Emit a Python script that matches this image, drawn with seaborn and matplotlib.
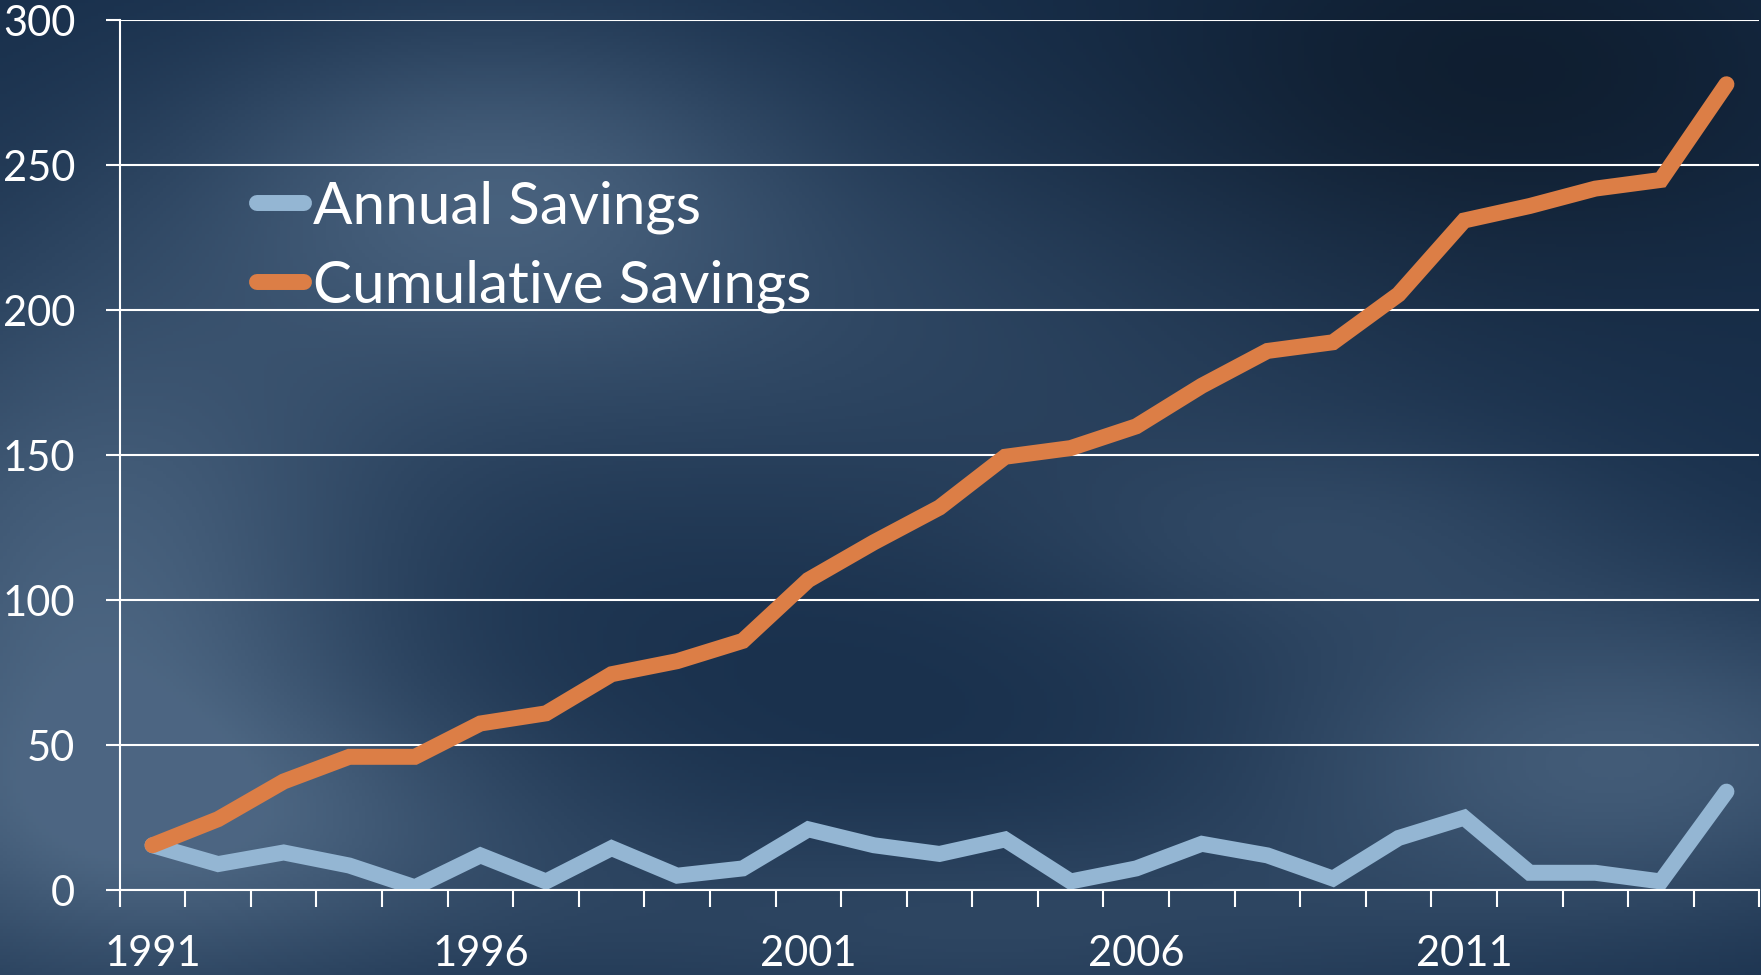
import numpy as np
import pandas as pd
import matplotlib.pyplot as plt
import seaborn as sns

# -----------------------------
# Data
# -----------------------------
years = list(range(1991, 2016))
annual_savings = [15.5, 9, 13, 8.5, 1, 12, 3, 14.5, 5, 7.5,
                  21, 15.5, 12.5, 17.5, 3, 7.5, 16, 12, 4, 18,
                  25, 6, 6, 3, 34]
cumulative_savings = [15.5, 24.5, 37.5, 46, 46, 57.5, 61, 74.5, 79, 86,
                      107, 120, 132, 149.5, 152.5, 160, 174, 186, 189, 205.5,
                      231, 236, 242, 245, 278]
series_names = ["Annual Savings", "Cumulative Savings"]
series_colors = ["#94b6d3", "#dc7e46"]
year_labels = ["1991", "1996", "2001", "2006", "2011"]

df = pd.DataFrame({
    "pos": list(range(len(years))) * 2,
    "value": annual_savings + cumulative_savings,
    "series": [series_names[0]] * len(years) + [series_names[1]] * len(years),
})

# -----------------------------
# Style
# -----------------------------
sns.set_style("white")
plt.rcParams["font.family"] = ["Lato", "DejaVu Sans"]
plt.rcParams["lines.solid_capstyle"] = "round"
plt.rcParams["lines.solid_joinstyle"] = "miter"

fig = plt.figure(figsize=(17.61, 9.75), dpi=100)

# background: smooth dark-blue wash
bg = fig.add_axes([0, 0, 1, 1], zorder=0)
h, w = 300, 540
yy, xx = np.mgrid[0:1:h * 1j, 0:1:w * 1j]
base = np.array([0.09, 0.18, 0.29])
light = np.array([0.30, 0.40, 0.51])
glow = np.zeros_like(xx)
for cx, cy, sx, sy, a in [(0.05, 0.65, 0.12, 0.25, 0.9), (0.28, 0.18, 0.12, 0.12, 0.7),
                          (0.45, 0.35, 0.25, 0.15, 0.4), (0.92, 0.78, 0.15, 0.12, 0.8),
                          (0.15, 0.85, 0.15, 0.1, 0.5), (0.75, 0.55, 0.12, 0.08, 0.35),
                          (0.55, 0.95, 0.2, 0.08, 0.4)]:
    glow += a * np.exp(-((xx - cx) ** 2 / (2 * sx ** 2) + (yy - cy) ** 2 / (2 * sy ** 2)))
dark = np.exp(-((xx - 0.85) ** 2 / (2 * 0.15 ** 2) + (yy - 0.08) ** 2 / (2 * 0.15 ** 2)))
glow = np.clip(glow, 0, 1)
img = base + glow[..., None] * (light - base)
img = img * (1 - 0.35 * dark[..., None])
bg.imshow(img, aspect="auto", extent=[0, 1, 0, 1], origin="upper")
bg.axis("off")

ax = fig.add_axes([0.068, 0.087, 0.931, 0.892], zorder=1)
ax.patch.set_alpha(0)

sns.lineplot(data=df, x="pos", y="value", hue="series", palette=series_colors,
             linewidth=11.5, ax=ax, legend=False)

# -----------------------------
# Axes
# -----------------------------
ax.set_xlim(-0.5, len(years) - 0.5)
ax.set_ylim(0, 300)
ax.set_yticks(range(0, 301, 50))
ax.set_xticks(np.arange(-0.5, len(years), 1.0))
ax.set_xticklabels([])
ax.set_xticks([0, 5, 10, 15, 20], minor=True)
ax.set_xticklabels(year_labels, minor=True)
ax.set_xlabel("")
ax.set_ylabel("")

ax.yaxis.grid(True, color="white", linewidth=1.5)
ax.set_axisbelow(True)
for side in ["top", "right"]:
    ax.spines[side].set_visible(False)
for side in ["left", "bottom"]:
    ax.spines[side].set_color("white")
    ax.spines[side].set_linewidth(1.5)

ax.tick_params(axis="x", which="major", direction="out", length=12, width=1.5,
               color="white", bottom=True)
ax.tick_params(axis="x", which="minor", length=0, pad=32, labelsize=30, labelcolor="white")
ax.tick_params(axis="y", direction="out", length=10, width=1.5, color="white",
               left=True, pad=22, labelsize=30, labelcolor="white")

handles = [plt.Line2D([], [], color=c, linewidth=11.5, solid_capstyle="round")
           for c in series_colors]
ax.legend(handles, series_names, loc="upper left", bbox_to_anchor=(0.066, 0.85),
          frameon=False, fontsize=42, labelcolor="white", handlelength=0.8,
          handletextpad=0.15, labelspacing=0.45, borderpad=0)

plt.savefig("out.png", dpi=100)
